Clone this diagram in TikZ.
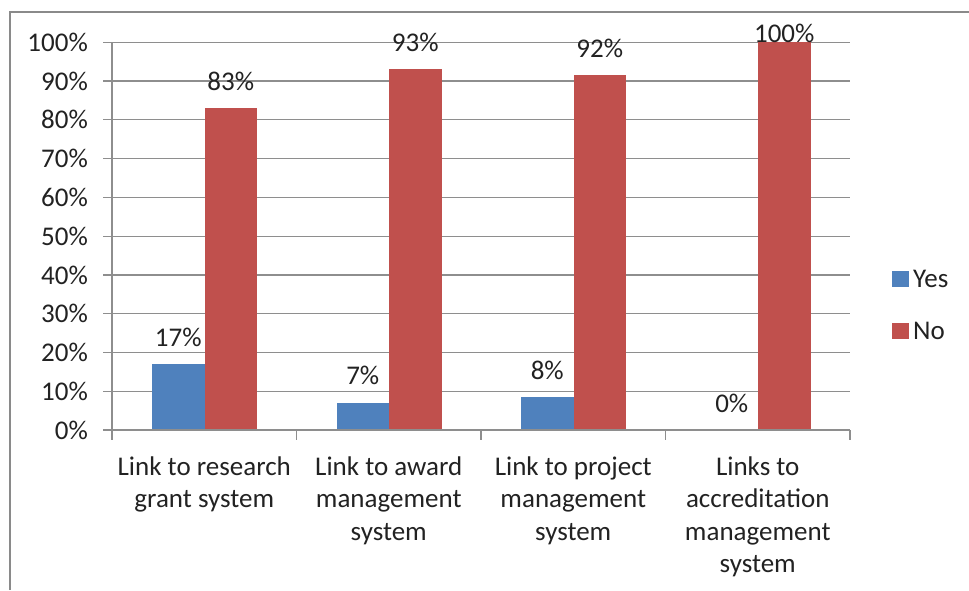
\documentclass[tikz,border=0pt]{standalone}
\usepackage{fontspec}
\setmainfont{Carlito}
\definecolor{yesblue}{HTML}{4F81BD}
\definecolor{nored}{HTML}{C0504D}
\definecolor{gridgray}{HTML}{8E8E8E}
\definecolor{framegray}{HTML}{8A8A8A}
\definecolor{txtgray}{HTML}{222222}
\def\chartfont{\fontsize{27}{32.5}\selectfont}

\begin{document}
\begin{tikzpicture}[x=1pt,y=-1pt,
	gridline/.style={draw=gridgray,line width=1.3pt},
	frameline/.style={draw=framegray,line width=2pt},
	yesbar/.style={fill=yesblue},
	nobar/.style={fill=nored},
	charttext/.style={text=txtgray,font=\chartfont,inner sep=0pt},
	vallabel/.style={charttext,anchor=center},
	ylabel/.style={charttext,anchor=east},
	catlabel/.style={charttext,anchor=base,align=center},
	legtext/.style={charttext,anchor=west}]
			%%%%% START %%%%%
			\def\xl{112}
			\def\xr{850}
			\def\yz{430}
			\def\u{3.877}
			\def\cw{184.5}
			\def\bw{52.5}
			\def\gap{40}
			\def\up{27}
			\def\ls{32.5}
			\useasboundingbox (0,0) rectangle (969,590);
			
			\draw[frameline] (10,590) -- (10,12) -- (969,12);
			
			% gridlines and value axis
			\foreach \p in {0,10,...,100} {
				\draw[gridline] (\xl-9,\yz-\p*\u) -- (\xr,\yz-\p*\u);
				\node[ylabel] (y\p) at (88,\yz-\p*\u) {\p\%};
			}
			\draw[gridline] (\xl,\yz) -- (\xl,\yz-100*\u);
			
			% bars
			\fill[yesbar] (\xl+\gap,\yz) rectangle (\xl+\gap+\bw,\yz-17*\u);
			\fill[nobar] (\xl+\gap+\bw,\yz) rectangle (\xl+\gap+2*\bw,\yz-83*\u);
			\fill[yesbar] (\xl+\cw+\gap,\yz) rectangle (\xl+\cw+\gap+\bw,\yz-7*\u);
			\fill[nobar] (\xl+\cw+\gap+\bw,\yz) rectangle (\xl+\cw+\gap+2*\bw,\yz-93*\u);
			\fill[yesbar] (\xl+2*\cw+\gap,\yz) rectangle (\xl+2*\cw+\gap+\bw,\yz-8.5*\u);
			\fill[nobar] (\xl+2*\cw+\gap+\bw,\yz) rectangle (\xl+2*\cw+\gap+2*\bw,\yz-91.5*\u);
			\fill[nobar] (\xl+3*\cw+\gap+\bw,\yz) rectangle (\xl+3*\cw+\gap+2*\bw,\yz-100*\u);
			
			% category axis
			\draw[gridline] (\xl,\yz) -- (\xr,\yz);
			\foreach \c in {0,...,4} {
				\draw[gridline] (\xl+\c*\cw,\yz) -- (\xl+\c*\cw,\yz+10);
			}
			
			% value labels
			\node[vallabel] (yes1) at (\xl+\gap+0.5*\bw,\yz-17*\u-\up) {17\%};
			\node[vallabel] (no1) at (\xl+\gap+1.5*\bw,\yz-83*\u-\up) {83\%};
			\node[vallabel] (yes2) at (\xl+\cw+\gap+0.5*\bw,\yz-7*\u-\up) {7\%};
			\node[vallabel] (no2) at (\xl+\cw+\gap+1.5*\bw,\yz-93*\u-\up) {93\%};
			\node[vallabel] (yes3) at (\xl+2*\cw+\gap+0.5*\bw,\yz-8.5*\u-\up) {8\%};
			\node[vallabel] (no3) at (\xl+2*\cw+\gap+1.5*\bw,\yz-91.5*\u-\up) {92\%};
			\node[vallabel] (yes4) at (\xl+3*\cw+\gap+0.5*\bw,\yz-\up) {0\%};
			\node[vallabel] (no4) at (\xl+3*\cw+\gap+1.5*\bw,33) {100\%};
			
			% category labels (base = last line)
			\node[catlabel] (cat1) at (\xl+0.5*\cw,475+\ls) {Link to research\\grant system};
			\node[catlabel] (cat2) at (\xl+1.5*\cw,475+2*\ls) {Link to award\\management\\system};
			\node[catlabel] (cat3) at (\xl+2.5*\cw,475+2*\ls) {Link to project\\management\\system};
			\node[catlabel] (cat4) at (\xl+3.5*\cw,475+3*\ls) {Links to\\accreditation\\management\\system};
			
			% legend
			\fill[yesbar] (892,271) rectangle (909,287);
			\node[legtext] (legyes) at (913,279) {Yes};
			\fill[nobar] (892,323) rectangle (909,339);
			\node[legtext] (legno) at (913,331) {No};
			%%%%% END %%%%%
\end{tikzpicture}
\end{document}
